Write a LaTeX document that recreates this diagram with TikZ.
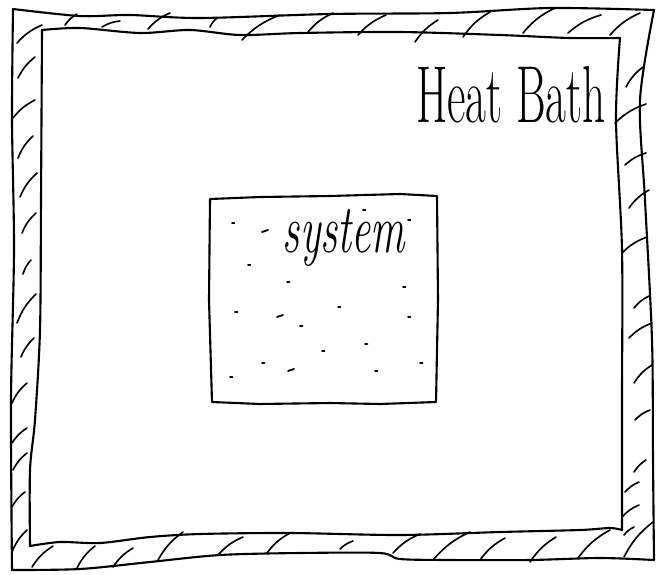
\documentclass[tikz,border=0pt]{standalone}
\usepackage{tikz}
\usetikzlibrary{calc}

\begin{document}
\begin{tikzpicture}[x=0.03cm,y=-0.03cm,
 wall/.style={line width=1.8pt,line join=round,line cap=round},
 hatch/.style={line width=1.4pt,line cap=round},
 speck/.style={line width=1.6pt,line cap=round},
 label/.style={inner sep=0pt,anchor=base}]
\useasboundingbox (0,0) rectangle (667,574);
% outer edge of the wall
\draw[wall] plot[smooth,tension=0.5] coordinates {(13,9) (80,16) (130,15) (200,18) (330,14) (450,13) (550,8) (654,10)};
\draw[wall] plot[smooth,tension=0.5] coordinates {(654,10) (640,100) (645,200) (652,340) (653,460) (654,560)};
\draw[wall] plot[smooth,tension=0.5] coordinates {(12,570) (80,569) (150,562) (220,555) (300,553) (380,553) (400,559) (450,560) (530,560) (600,558) (654,560)};
\draw[wall] plot[smooth,tension=0.5] coordinates {(13,9) (12,120) (14,250) (11,400) (12,570)};
% inner edge of the wall
\draw[wall] plot[smooth,tension=0.5] coordinates {(42,30) (80,28) (140,33) (190,30) (240,35) (300,33) (400,32) (500,35) (570,38) (620,38)};
\draw[wall] plot[smooth,tension=0.5] coordinates {(620,38) (616,120) (622,250) (622,400) (622,530)};
\draw[wall] plot[smooth,tension=0.5] coordinates {(30,546) (60,542) (100,543) (150,537) (200,534) (290,533) (400,535) (500,532) (580,530) (610,528) (622,530)};
\draw[wall] plot[smooth,tension=0.5] coordinates {(42,30) (41,200) (40,330) (35,420) (30,470) (30,546)};
% hatching, top and left
\foreach \a/\b/\c/\d in {65/25/77/14,102/27/120/21,148/29/170/13,210/27/217/18,242/40/280/15,308/32/333/13,358/35/386/15,415/42/438/20,463/37/490/12,523/33/555/8,568/33/601/15,610/35/640/13}
 \draw[hatch] (\a,\b) to[bend left=12] (\c,\d);
\foreach \a/\b/\c/\d in {17/43/42/25,18/78/35/57,13/118/35/100,18/158/33/136,20/197/37/173,22/233/36/213,23/274/31/260,17/323/36/294,21/357/34/338,12/403/27/383,12/443/27/428,13/470/27/453,12/507/25/492,12/552/27/530}
 \draw[hatch] (\a,\b) to[bend left=12] (\c,\d);
% hatching, right and bottom
\foreach \a/\b/\c/\d in {626/87/643/67,615/123/646/104,625/165/646/153,629/208/649/190,622/253/647/237,634/308/649/296,629/338/652/323,634/383/652/365,635/420/650/410,634/472/646/460,625/492/639/482,622/517/639/505,624/535/634/527,624/557/653/522}
 \draw[hatch] (\a,\b) to[bend left=12] (\c,\d);
\foreach \a/\b/\c/\d in {32/567/53/546,77/568/95/546,113/567/133/548,158/560/183/532,218/555/243/537,267/553/290/533,340/549/353/541,393/553/420/534,433/560/470/532,480/560/505/538,530/562/556/537,578/558/610/530}
 \draw[hatch] (\a,\b) to[bend left=12] (\c,\d);
\node[label,font=\fontsize{69}{69}\selectfont] (bath) at (511,122) {\scalebox{0.56}[1]{Heat Bath}};
% the system
\draw[wall] (210,199) -- (260,197) -- (330,196) -- (400,194) -- (437,196) -- (438,300) -- (436,402) -- (380,404) -- (330,403) -- (260,404) -- (212,402) -- (209,300) -- cycle;
\node[label,font=\fontsize{59}{59}\selectfont\itshape] (sys) at (344,252) {\scalebox{0.62}[1]{system}};
\foreach \x/\y in {232/223,363/210,408/220,248/265,287/282,403/287,235/312,338/307,300/326,408/317,365/344,322/351,262/363,375/371,420/363,230/377}
 \draw[speck] (\x,\y) -- ++(2.5,0);
\foreach \x/\y in {262/232,277/317,288/371}
 \draw[speck] (\x,\y) -- ++(6,-2);
\end{tikzpicture}
\end{document}
